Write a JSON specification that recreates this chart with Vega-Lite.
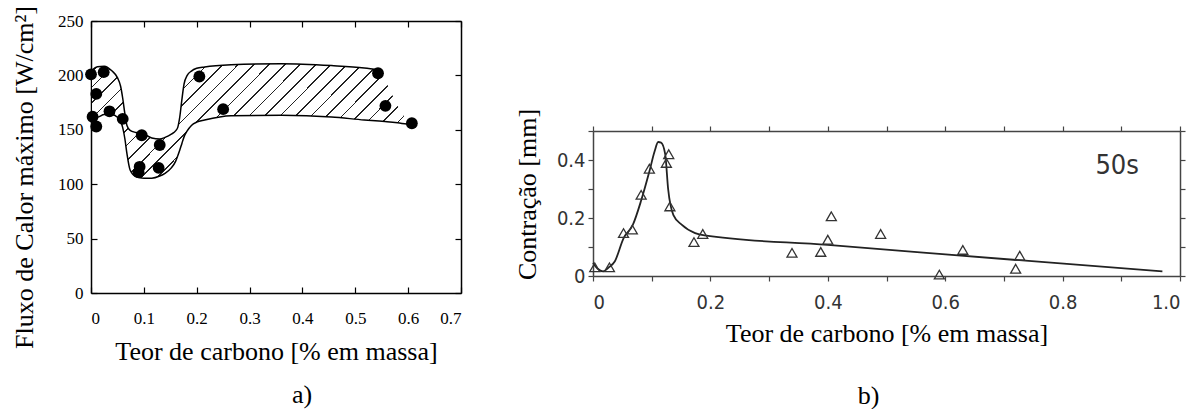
{
  "$schema": "https://vega.github.io/schema/vega-lite/v6.json",
  "background": "white",
  "padding": {"left": 11, "top": 5, "right": 0, "bottom": 0},
  "autosize": {"type": "pad"},
  "bounds": "flush",
  "spacing": 132,
  "datasets": {
    "a_points": [
      {"c": 0.0, "q": 201}, {"c": 0.024, "q": 203}, {"c": 0.01, "q": 183}, {"c": 0.003, "q": 162},
      {"c": 0.01, "q": 153}, {"c": 0.035, "q": 167}, {"c": 0.06, "q": 160}, {"c": 0.096, "q": 145},
      {"c": 0.092, "q": 116}, {"c": 0.09, "q": 111}, {"c": 0.13, "q": 136}, {"c": 0.128, "q": 115},
      {"c": 0.205, "q": 199}, {"c": 0.25, "q": 169}, {"c": 0.543, "q": 202}, {"c": 0.557, "q": 172},
      {"c": 0.607, "q": 156}
    ],
    "a_band": [
      {"c": 0.002, "hi": 205, "lo": 164}, {"c": 0.012, "hi": 208, "lo": 161.5}, {"c": 0.025, "hi": 208.5, "lo": 164},
      {"c": 0.04, "hi": 204, "lo": 164}, {"c": 0.05, "hi": 198, "lo": 161.5}, {"c": 0.056, "hi": 190, "lo": 158},
      {"c": 0.06, "hi": 179, "lo": 152}, {"c": 0.064, "hi": 165, "lo": 142}, {"c": 0.068, "hi": 154, "lo": 128},
      {"c": 0.074, "hi": 149.5, "lo": 113}, {"c": 0.085, "hi": 147.5, "lo": 107}, {"c": 0.1, "hi": 146, "lo": 105.5},
      {"c": 0.115, "hi": 142.5, "lo": 105.5}, {"c": 0.13, "hi": 141.5, "lo": 107.5}, {"c": 0.14, "hi": 143, "lo": 110},
      {"c": 0.152, "hi": 146, "lo": 115}, {"c": 0.16, "hi": 149, "lo": 121}, {"c": 0.164, "hi": 152, "lo": 126},
      {"c": 0.168, "hi": 162, "lo": 131.5}, {"c": 0.172, "hi": 178, "lo": 137.5}, {"c": 0.176, "hi": 192, "lo": 143.5},
      {"c": 0.182, "hi": 200, "lo": 149}, {"c": 0.19, "hi": 204, "lo": 154}, {"c": 0.2, "hi": 206.5, "lo": 157},
      {"c": 0.215, "hi": 207.8, "lo": 159}, {"c": 0.265, "hi": 209.8, "lo": 163}, {"c": 0.36, "hi": 210.8, "lo": 163.3},
      {"c": 0.455, "hi": 209, "lo": 161.8}, {"c": 0.517, "hi": 206.8, "lo": 159}, {"c": 0.545, "hi": 205, "lo": 158},
      {"c": 0.56, "hi": 192, "lo": 157.5}, {"c": 0.58, "hi": 172, "lo": 156.5}, {"c": 0.6, "hi": 156, "lo": 155}
    ],
    "b_points": [
      {"c": 0.003, "s": 0.03}, {"c": 0.028, "s": 0.03}, {"c": 0.052, "s": 0.148}, {"c": 0.067, "s": 0.16},
      {"c": 0.082, "s": 0.28}, {"c": 0.096, "s": 0.37}, {"c": 0.125, "s": 0.39}, {"c": 0.129, "s": 0.42},
      {"c": 0.131, "s": 0.24}, {"c": 0.172, "s": 0.117}, {"c": 0.187, "s": 0.145}, {"c": 0.339, "s": 0.08},
      {"c": 0.388, "s": 0.083}, {"c": 0.4, "s": 0.125}, {"c": 0.406, "s": 0.206}, {"c": 0.49, "s": 0.145},
      {"c": 0.59, "s": 0.005}, {"c": 0.63, "s": 0.09}, {"c": 0.72, "s": 0.025}, {"c": 0.727, "s": 0.07}
    ],
    "b_curve": [
      {"c": 0.0, "s": 0.045}, {"c": 0.008, "s": 0.025}, {"c": 0.017, "s": 0.016}, {"c": 0.027, "s": 0.03},
      {"c": 0.037, "s": 0.05}, {"c": 0.052, "s": 0.13}, {"c": 0.068, "s": 0.177}, {"c": 0.082, "s": 0.26},
      {"c": 0.096, "s": 0.36}, {"c": 0.105, "s": 0.43}, {"c": 0.111, "s": 0.462}, {"c": 0.116, "s": 0.46},
      {"c": 0.123, "s": 0.42}, {"c": 0.128, "s": 0.3}, {"c": 0.137, "s": 0.21}, {"c": 0.151, "s": 0.177},
      {"c": 0.174, "s": 0.148}, {"c": 0.19, "s": 0.14}, {"c": 0.4, "s": 0.107}, {"c": 0.716, "s": 0.056},
      {"c": 0.97, "s": 0.016}
    ],
    "b_label": [{"c": 0.893, "s": 0.378, "t": "50s"}]
  },
  "hconcat": [
    {
      "width": 370,
      "height": 272,
      "title": {"text": "a)", "orient": "bottom", "anchor": "middle", "dx": 26, "offset": 18, "font": "Liberation Serif", "fontSize": 26, "fontWeight": "normal", "color": "black"},
      "resolve": {"axis": {"x": "independent", "y": "independent"}},
      "layer": [
        {
          "data": {"name": "a_band"},
          "mark": {
            "type": "area", "interpolate": "monotone",
            "fill": {
              "gradient": "linear", "x1": 0, "y1": 0, "x2": 1.204, "y2": 0.435,
              "stops": [
                {"offset": 0, "color": "#fff"},
                {"offset": 0.016, "color": "#fff"}, {"offset": 0.016, "color": "#222"}, {"offset": 0.020, "color": "#222"}, {"offset": 0.020, "color": "#fff"},
                {"offset": 0.052, "color": "#fff"}, {"offset": 0.052, "color": "#222"}, {"offset": 0.056, "color": "#222"}, {"offset": 0.056, "color": "#fff"},
                {"offset": 0.088, "color": "#fff"}, {"offset": 0.088, "color": "#222"}, {"offset": 0.092, "color": "#222"}, {"offset": 0.092, "color": "#fff"},
                {"offset": 0.124, "color": "#fff"}, {"offset": 0.124, "color": "#222"}, {"offset": 0.128, "color": "#222"}, {"offset": 0.128, "color": "#fff"},
                {"offset": 0.160, "color": "#fff"}, {"offset": 0.160, "color": "#222"}, {"offset": 0.164, "color": "#222"}, {"offset": 0.164, "color": "#fff"},
                {"offset": 0.196, "color": "#fff"}, {"offset": 0.196, "color": "#222"}, {"offset": 0.200, "color": "#222"}, {"offset": 0.200, "color": "#fff"},
                {"offset": 0.232, "color": "#fff"}, {"offset": 0.232, "color": "#222"}, {"offset": 0.236, "color": "#222"}, {"offset": 0.236, "color": "#fff"},
                {"offset": 0.268, "color": "#fff"}, {"offset": 0.268, "color": "#222"}, {"offset": 0.272, "color": "#222"}, {"offset": 0.272, "color": "#fff"},
                {"offset": 0.304, "color": "#fff"}, {"offset": 0.304, "color": "#222"}, {"offset": 0.308, "color": "#222"}, {"offset": 0.308, "color": "#fff"},
                {"offset": 0.340, "color": "#fff"}, {"offset": 0.340, "color": "#222"}, {"offset": 0.344, "color": "#222"}, {"offset": 0.344, "color": "#fff"},
                {"offset": 0.376, "color": "#fff"}, {"offset": 0.376, "color": "#222"}, {"offset": 0.380, "color": "#222"}, {"offset": 0.380, "color": "#fff"},
                {"offset": 0.412, "color": "#fff"}, {"offset": 0.412, "color": "#222"}, {"offset": 0.416, "color": "#222"}, {"offset": 0.416, "color": "#fff"},
                {"offset": 0.448, "color": "#fff"}, {"offset": 0.448, "color": "#222"}, {"offset": 0.452, "color": "#222"}, {"offset": 0.452, "color": "#fff"},
                {"offset": 0.484, "color": "#fff"}, {"offset": 0.484, "color": "#222"}, {"offset": 0.488, "color": "#222"}, {"offset": 0.488, "color": "#fff"},
                {"offset": 0.520, "color": "#fff"}, {"offset": 0.520, "color": "#222"}, {"offset": 0.524, "color": "#222"}, {"offset": 0.524, "color": "#fff"},
                {"offset": 0.556, "color": "#fff"}, {"offset": 0.556, "color": "#222"}, {"offset": 0.560, "color": "#222"}, {"offset": 0.560, "color": "#fff"},
                {"offset": 0.592, "color": "#fff"}, {"offset": 0.592, "color": "#222"}, {"offset": 0.596, "color": "#222"}, {"offset": 0.596, "color": "#fff"},
                {"offset": 0.628, "color": "#fff"}, {"offset": 0.628, "color": "#222"}, {"offset": 0.632, "color": "#222"}, {"offset": 0.632, "color": "#fff"},
                {"offset": 0.664, "color": "#fff"}, {"offset": 0.664, "color": "#222"}, {"offset": 0.668, "color": "#222"}, {"offset": 0.668, "color": "#fff"},
                {"offset": 0.700, "color": "#fff"}, {"offset": 0.700, "color": "#222"}, {"offset": 0.704, "color": "#222"}, {"offset": 0.704, "color": "#fff"},
                {"offset": 0.736, "color": "#fff"}, {"offset": 0.736, "color": "#222"}, {"offset": 0.740, "color": "#222"}, {"offset": 0.740, "color": "#fff"},
                {"offset": 0.772, "color": "#fff"}, {"offset": 0.772, "color": "#222"}, {"offset": 0.776, "color": "#222"}, {"offset": 0.776, "color": "#fff"},
                {"offset": 0.808, "color": "#fff"}, {"offset": 0.808, "color": "#222"}, {"offset": 0.812, "color": "#222"}, {"offset": 0.812, "color": "#fff"},
                {"offset": 0.844, "color": "#fff"}, {"offset": 0.844, "color": "#222"}, {"offset": 0.848, "color": "#222"}, {"offset": 0.848, "color": "#fff"},
                {"offset": 0.880, "color": "#fff"}, {"offset": 0.880, "color": "#222"}, {"offset": 0.884, "color": "#222"}, {"offset": 0.884, "color": "#fff"},
                {"offset": 0.916, "color": "#fff"}, {"offset": 0.916, "color": "#222"}, {"offset": 0.920, "color": "#222"}, {"offset": 0.920, "color": "#fff"},
                {"offset": 0.952, "color": "#fff"}, {"offset": 0.952, "color": "#222"}, {"offset": 0.956, "color": "#222"}, {"offset": 0.956, "color": "#fff"},
                {"offset": 0.988, "color": "#fff"}, {"offset": 0.988, "color": "#222"}, {"offset": 0.992, "color": "#222"}, {"offset": 0.992, "color": "#fff"},
                {"offset": 1, "color": "#fff"}
              ]
            }
          },
          "encoding": {
            "x": {"field": "c", "type": "quantitative", "scale": {"domain": [0, 0.7], "nice": false, "zero": false},
              "axis": {"orient": "bottom", "values": [0, 0.1, 0.2, 0.3, 0.4, 0.5, 0.6, 0.7], "format": "~g",
                "title": "Teor de carbono [% em massa]", "titlePadding": 12, "labelPadding": 23, "tickSize": -6}},
            "y": {"field": "hi", "type": "quantitative", "scale": {"domain": [0, 250], "nice": false, "zero": false},
              "axis": {"orient": "left", "values": [0, 50, 100, 150, 200, 250], "title": "Fluxo de Calor máximo [W/cm²]",
                "titleY": 156, "titlePadding": 20, "labelPadding": 14, "tickSize": -6}},
            "y2": {"field": "lo"}
          }
        },
        {
          "data": {"name": "a_band"},
          "transform": [{"filter": "datum.c <= 0.55"}],
          "mark": {"type": "line", "interpolate": "monotone", "color": "black", "strokeWidth": 1.5},
          "encoding": {
            "x": {"field": "c", "type": "quantitative", "axis": null},
            "y": {"field": "hi", "type": "quantitative", "axis": null}
          }
        },
        {
          "data": {"name": "a_band"},
          "mark": {"type": "line", "interpolate": "monotone", "color": "black", "strokeWidth": 1.5},
          "encoding": {
            "x": {"field": "c", "type": "quantitative", "axis": null},
            "y": {"field": "lo", "type": "quantitative", "axis": null}
          }
        },
        {
          "data": {"name": "a_points"},
          "mark": {"type": "circle", "color": "black", "opacity": 1, "size": 140},
          "encoding": {
            "x": {"field": "c", "type": "quantitative", "axis": null},
            "y": {"field": "q", "type": "quantitative", "axis": null}
          }
        },
        {
          "data": {"name": "a_points"},
          "mark": {"type": "point", "opacity": 0},
          "encoding": {
            "x": {"field": "c", "type": "quantitative",
              "axis": {"orient": "top", "values": [0, 0.1, 0.2, 0.3, 0.4, 0.5, 0.6, 0.7], "labels": false, "title": null, "tickSize": -6}},
            "y": {"field": "q", "type": "quantitative",
              "axis": {"orient": "right", "values": [0, 50, 100, 150, 200, 250], "labels": false, "title": null, "tickSize": -6}}
          }
        }
      ]
    },
    {
      "bounds": "flush",
      "spacing": 0,
      "vconcat": [
        {"width": 587, "height": 110, "data": {"values": []}, "mark": "point"},
        {
          "width": 587,
          "height": 145,
          "title": {"text": "b)", "orient": "bottom", "anchor": "middle", "dx": -18, "offset": 37, "font": "Liberation Serif", "fontSize": 26, "fontWeight": "normal", "color": "black"},
          "resolve": {"axis": {"x": "independent", "y": "independent"}},
          "layer": [
            {
              "data": {"name": "b_curve"},
              "mark": {"type": "line", "interpolate": "monotone", "color": "#222", "strokeWidth": 1.8},
              "encoding": {
                "x": {"field": "c", "type": "quantitative", "scale": {"domain": [0, 1], "nice": false, "zero": false},
                  "axis": {"orient": "bottom", "values": [0, 0.1, 0.2, 0.3, 0.4, 0.5, 0.6, 0.7, 0.8, 0.9, 1.0],
                    "labelExpr": "datum.value < 0.05 ? '0' : (abs(datum.value*10 - round(datum.value*5)*2) < 0.01 ? format(datum.value, '.1f') : '')",
                    "title": "Teor de carbono [% em massa]", "titlePadding": 8, "labelPadding": 11, "tickSize": 5,
                    "labelFont": "DejaVu Sans Condensed, DejaVu Sans", "labelFontSize": 20, "labelColor": "#333",
                    "domainColor": "#444", "tickColor": "#444"}},
                "y": {"field": "s", "type": "quantitative", "scale": {"domain": [0, 0.5], "nice": false, "zero": false},
                  "axis": {"orient": "left", "values": [0, 0.1, 0.2, 0.3, 0.4, 0.5],
                    "labelExpr": "datum.value < 0.05 ? '0' : (abs(datum.value - 0.2) < 0.01 || abs(datum.value - 0.4) < 0.01 ? format(datum.value, '.1f') : '')",
                    "title": "Contração [mm]", "titleY": 63, "titlePadding": 16, "labelPadding": 3, "tickSize": 5,
                    "labelFont": "DejaVu Sans Condensed, DejaVu Sans", "labelFontSize": 20, "labelColor": "#333",
                    "domainColor": "#444", "tickColor": "#444"}}
              }
            },
            {
              "data": {"name": "b_points"},
              "mark": {"type": "point", "shape": "triangle-up", "filled": false, "color": "#333", "strokeWidth": 1.3, "size": 100, "opacity": 1},
              "encoding": {
                "x": {"field": "c", "type": "quantitative", "axis": null},
                "y": {"field": "s", "type": "quantitative", "axis": null}
              }
            },
            {
              "data": {"name": "b_label"},
              "mark": {"type": "text", "font": "DejaVu Sans Condensed, DejaVu Sans", "fontSize": 27, "color": "#333", "align": "center", "baseline": "middle"},
              "encoding": {
                "x": {"field": "c", "type": "quantitative", "axis": null},
                "y": {"field": "s", "type": "quantitative", "axis": null},
                "text": {"field": "t"}
              }
            },
            {
              "data": {"name": "b_points"},
              "mark": {"type": "point", "opacity": 0},
              "encoding": {
                "x": {"field": "c", "type": "quantitative",
                  "axis": {"orient": "top", "values": [0, 0.1, 0.2, 0.3, 0.4, 0.5, 0.6, 0.7, 0.8, 0.9, 1.0], "labels": false, "title": null, "tickSize": 5, "domainColor": "#444", "tickColor": "#444"}},
                "y": {"field": "s", "type": "quantitative",
                  "axis": {"orient": "right", "values": [0, 0.1, 0.2, 0.3, 0.4, 0.5], "labels": false, "title": null, "tickSize": 5, "domainColor": "#444", "tickColor": "#444"}}
              }
            }
          ]
        }
      ]
    }
  ],
  "config": {
    "view": {"stroke": null},
    "axis": {
      "grid": false,
      "domainColor": "black",
      "domainWidth": 1.5,
      "tickColor": "black",
      "tickWidth": 1.2,
      "labelFont": "Liberation Serif",
      "labelFontSize": 17,
      "labelColor": "black",
      "labelOverlap": false,
      "titleFont": "Liberation Serif",
      "titleFontSize": 26,
      "titleFontWeight": "normal",
      "titleColor": "black"
    }
  }
}
